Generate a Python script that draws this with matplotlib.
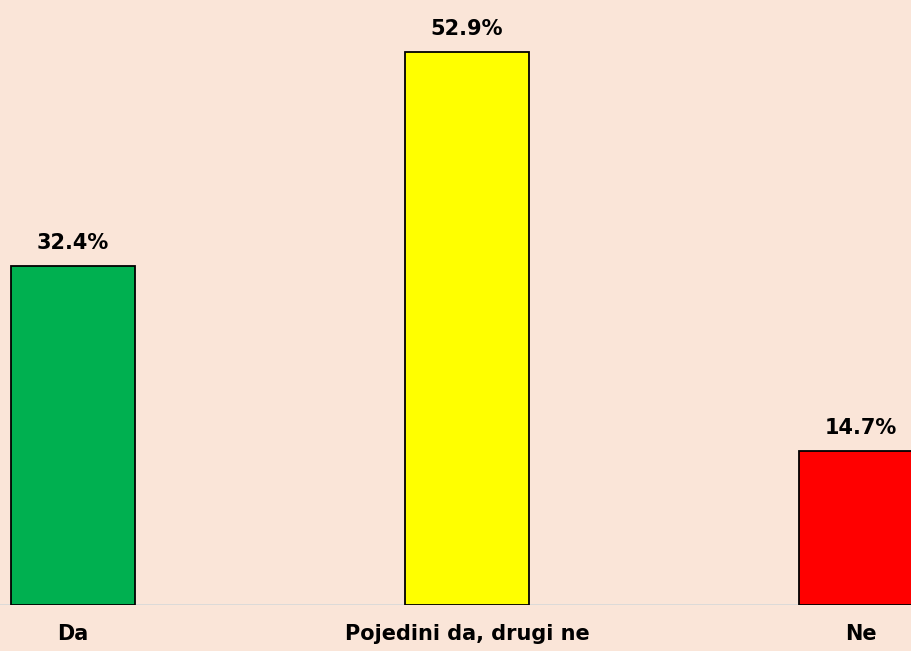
import matplotlib.pyplot as plt

categories = ["Da", "Pojedini da, drugi ne", "Ne"]
values = [32.4, 52.9, 14.7]
bar_colors = ["#00B050", "#FFFF00", "#FF0000"]
value_labels = ["32.4%", "52.9%", "14.7%"]

BG = "#FAE5D8"

fig = plt.figure(figsize=(9.12, 6.51), dpi=100, facecolor=BG)
ax = fig.add_axes([0, 46 / 651, 1, 605 / 651])
ax.set_facecolor(BG)

x = list(range(len(categories)))
ax.bar(x, values, width=0.315, color=bar_colors, edgecolor="black", linewidth=1.3, zorder=3)

for xi, v, lab in zip(x, values, value_labels):
    ax.annotate(lab, (xi, v), xytext=(0, 9.5), textcoords="offset points",
                ha="center", va="bottom", fontsize=15, fontweight="heavy",
                color="black", family="DejaVu Sans")

ax.set_xlim(-73 / 394, (912 - 73) / 394)
ax.set_ylim(0, 57.9)
for s in ax.spines.values():
    s.set_visible(False)
ax.axhline(0, color="#D9D9D9", lw=2, zorder=2)
ax.set_yticks([])
ax.set_xticks(x)
ax.set_xticklabels(categories, fontsize=15, fontweight="heavy")
ax.tick_params(axis="x", length=0, pad=14)

fig.savefig("out.png", dpi=100, facecolor=BG)
